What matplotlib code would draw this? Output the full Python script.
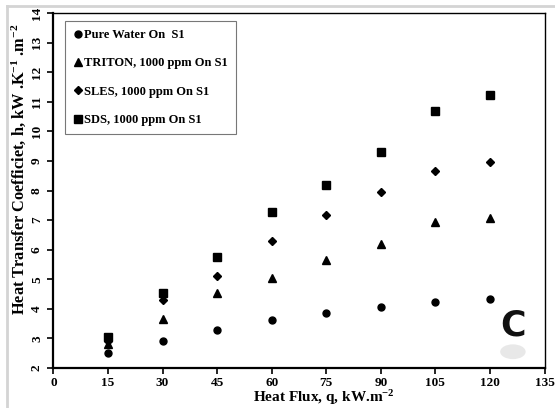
import matplotlib
matplotlib.use('Agg')
import matplotlib.pyplot as plt
from matplotlib.lines import Line2D
from matplotlib.patches import Ellipse

# データ
heat_flux = [15, 30, 45, 60, 75, 90, 105, 120]
pure_water = [2.52, 2.93, 3.30, 3.62, 3.86, 4.07, 4.24, 4.35]
triton = [2.82, 3.65, 4.55, 5.05, 5.65, 6.20, 6.95, 7.08]
sles = [2.90, 4.30, 5.12, 6.28, 7.18, 7.96, 8.66, 8.96]
sds = [3.05, 4.55, 5.75, 7.28, 8.20, 9.30, 10.70, 11.22]

labels = ['Pure Water On  S1', 'TRITON, 1000 ppm On S1',
          'SLES, 1000 ppm On S1', 'SDS, 1000 ppm On S1']
xticks = [0, 15, 30, 45, 60, 75, 90, 105, 120, 135]
yticks = list(range(2, 15))

plt.rcParams['font.family'] = ['Liberation Serif', 'DejaVu Serif']
plt.rcParams['font.weight'] = 'bold'
plt.rcParams['mathtext.fontset'] = 'custom'
plt.rcParams['mathtext.rm'] = 'Liberation Serif:bold'
plt.rcParams['mathtext.default'] = 'rm'

fig = plt.figure(figsize=(5.55, 4.08), dpi=100)
ax = fig.add_axes([0.0962, 0.098, 0.885, 0.87])

# 散布図
ax.plot(heat_flux, pure_water, 'o', color='black', markersize=5, label=labels[0])
ax.plot(heat_flux, triton, '^', color='black', markersize=5.5, label=labels[1])
ax.plot(heat_flux, sles, 'D', color='black', markersize=4, label=labels[2])
ax.plot(heat_flux, sds, 's', color='black', markersize=5.5, label=labels[3])

ax.set_xlim(0, 135)
ax.set_ylim(2, 14)
ax.set_xticks(xticks)
ax.set_yticks(yticks)
ax.tick_params(direction='out', length=4, width=1.2, labelsize=9.5)
ax.tick_params(axis='x', pad=2.5)
for lab in ax.get_yticklabels():
    lab.set_rotation(90)
    lab.set_va('center')
for s in ax.spines.values():
    s.set_linewidth(1.0)
ax.spines['bottom'].set_linewidth(1.6)
ax.spines['left'].set_linewidth(1.6)

ax.set_xlabel('Heat Flux, q, kW.m$^{-2}$', fontsize=11.0, fontweight='bold')
ax.xaxis.set_label_coords(0.551, -0.057)
ax.xaxis.label.set_va('top')
ax.set_ylabel('Heat Transfer Coefficiet, h, kW .K$^{-1}$ .m$^{-2}$', fontsize=11.8,
              fontweight='bold')
ax.yaxis.set_label_coords(-0.052, 0.56)

leg = ax.legend(loc='upper left', bbox_to_anchor=(0.01, 0.995), fancybox=False,
                edgecolor='#555555', handletextpad=0.1,
                handlelength=0.8, labelspacing=1.3, borderpad=0.65,
                prop={'weight': 'bold', 'size': 9.0})
leg.get_frame().set_linewidth(0.8)

# 右下の "C"
ax.text(126.3, 3.45, 'C', fontsize=25, fontweight='bold', family='DejaVu Sans',
        ha='center', va='center', color='#111111')
ax.add_patch(Ellipse((126.3, 2.55), 7, 0.5, facecolor='#e8e8e8', edgecolor='none'))

# 画像の枠線
fig.add_artist(Line2D([0.0125, 1.0], [0.985, 0.985], transform=fig.transFigure,
                      color='#d4d4d4', linewidth=2))
fig.add_artist(Line2D([0.0125, 0.0125], [0.0, 0.985], transform=fig.transFigure,
                      color='#d4d4d4', linewidth=2))

fig.savefig('out.png', dpi=100)
